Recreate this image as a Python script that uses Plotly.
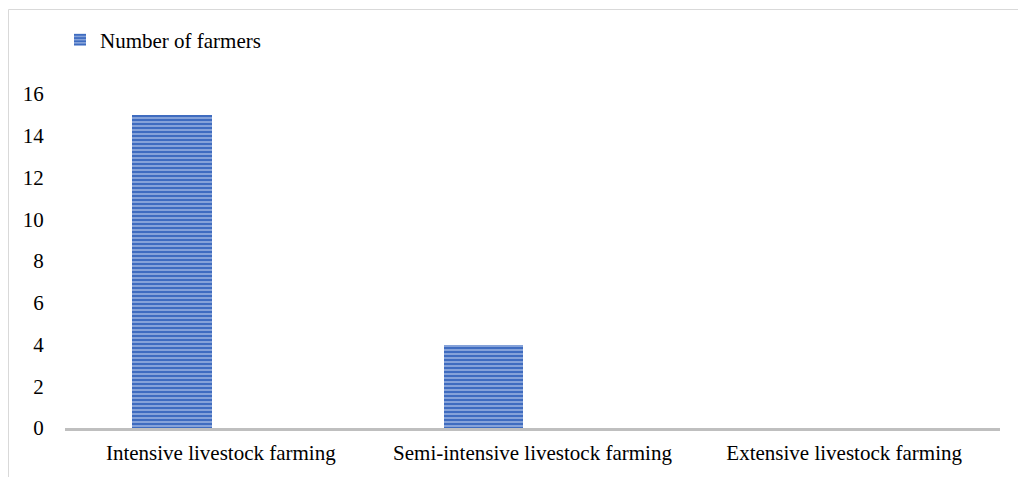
import plotly.graph_objects as go

categories = ["Intensive livestock farming", "Semi-intensive livestock farming", "Extensive livestock farming"]
farmers = [15, 4, 0]
series_name = "Number of farmers"
y_ticks = [0, 2, 4, 6, 8, 10, 12, 14, 16]

W, H = 1018, 477
L, R, T, B = 65, 18, 94, 49
pw, ph = W - L - R, H - T - B

def px_x(px):
    return (px - L) / pw

def px_y(py):
    return (H - B - py) / ph

fig = go.Figure()
fig.add_trace(go.Bar(
    x=categories, y=farmers, name=series_name,
    width=0.256, offset=-0.285,
    marker=dict(
        color="#4472c4",
        line=dict(width=0),
        pattern=dict(shape="-", fgcolor="#3f6cc0", bgcolor="#b3c6ea", size=4,
                     solidity=0.7, fgopacity=1),
    ),
    showlegend=True,
))

font = dict(family="Liberation Serif, Times New Roman, serif", size=21, color="#000000")

fig.update_layout(
    width=W, height=H,
    margin=dict(l=L, r=R, t=T, b=B, autoexpand=False),
    paper_bgcolor="white", plot_bgcolor="white",
    font=font,
    showlegend=True,
    legend=dict(x=px_x(60), y=px_y(40), xanchor="left", yanchor="middle",
                bgcolor="rgba(0,0,0,0)", font=font, itemsizing="constant"),
    xaxis=dict(showgrid=False, showline=True, linecolor="#bfbfbf", linewidth=3,
               ticks="outside", ticklen=4, tickcolor="rgba(0,0,0,0)",
               tickfont=font, zeroline=False, automargin=False),
    yaxis=dict(range=[0, 16], tickvals=y_ticks, showgrid=False, showline=False,
               zeroline=False, ticks="outside", ticklen=16, tickcolor="rgba(0,0,0,0)",
               tickfont=font, automargin=False),
    bargap=0,
)

fig.add_shape(type="rect", xref="paper", yref="paper",
              x0=px_x(8.5), x1=px_x(1030), y0=px_y(9.5), y1=px_y(490),
              line=dict(color="#d9d9d9", width=1), fillcolor="rgba(0,0,0,0)", layer="below")

fig.write_html("out.html")
